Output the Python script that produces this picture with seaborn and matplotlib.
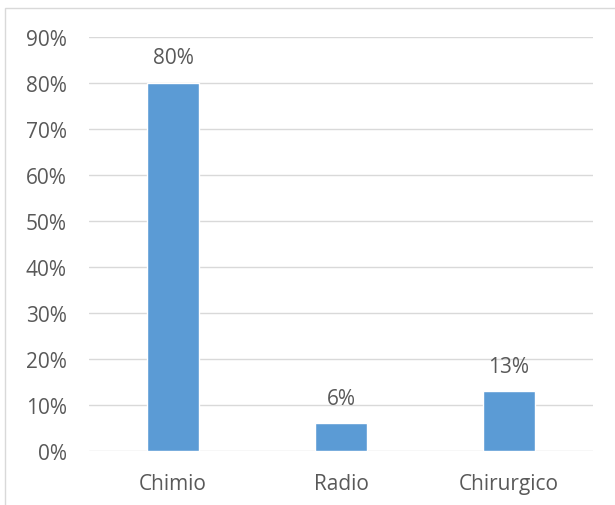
import matplotlib
matplotlib.use("Agg")
import matplotlib.pyplot as plt
import seaborn as sns
import pandas as pd
from matplotlib.patches import Rectangle

categories = ["Chimio", "Radio", "Chirurgico"]
values = [0.80, 0.06, 0.13]
y_ticks = [0.0, 0.1, 0.2, 0.3, 0.4, 0.5, 0.6, 0.7, 0.8, 0.9]

df = pd.DataFrame({"category": categories, "value": values})

sns.set_theme(style="white")
plt.rcParams["font.family"] = ["Open Sans", "DejaVu Sans"]

text_color = "#595959"
grid_color = "#D9D9D9"
bar_color = "#5B9BD5"
font_size = 15

fig = plt.figure(figsize=(6.15, 5.06), dpi=100)
ax = fig.add_axes([89 / 615, 1 - 452 / 506, (593 - 89) / 615, (452 - 38) / 506])

sns.barplot(data=df, x="category", y="value", color=bar_color, width=0.31,
            saturation=1, ax=ax, zorder=3)

ax.set_ylim(0, 0.9)
ax.set_yticks(y_ticks)
ax.set_yticklabels([f"{int(round(t * 100))}%" for t in y_ticks])
ax.yaxis.grid(True, color=grid_color, linewidth=1, zorder=0)
ax.set_axisbelow(True)
ax.set_xlabel("")
ax.set_ylabel("")
for s in ax.spines.values():
    s.set_visible(False)
ax.tick_params(axis="both", length=0, labelsize=font_size, colors=text_color)
ax.tick_params(axis="y", pad=16)
ax.tick_params(axis="x", pad=16)

for i, v in enumerate(values):
    ax.annotate(f"{int(round(v * 100))}%", (i, v), xytext=(0, 18),
                textcoords="offset points", ha="center", va="center",
                fontsize=font_size, color=text_color)

# chart frame
fig.patches.append(Rectangle((5 / 615, -0.01), 1.0, 1 - 9 / 506 + 0.01,
                             transform=fig.transFigure, fill=False,
                             edgecolor=grid_color, linewidth=1))

fig.savefig("out.png", dpi=100)
